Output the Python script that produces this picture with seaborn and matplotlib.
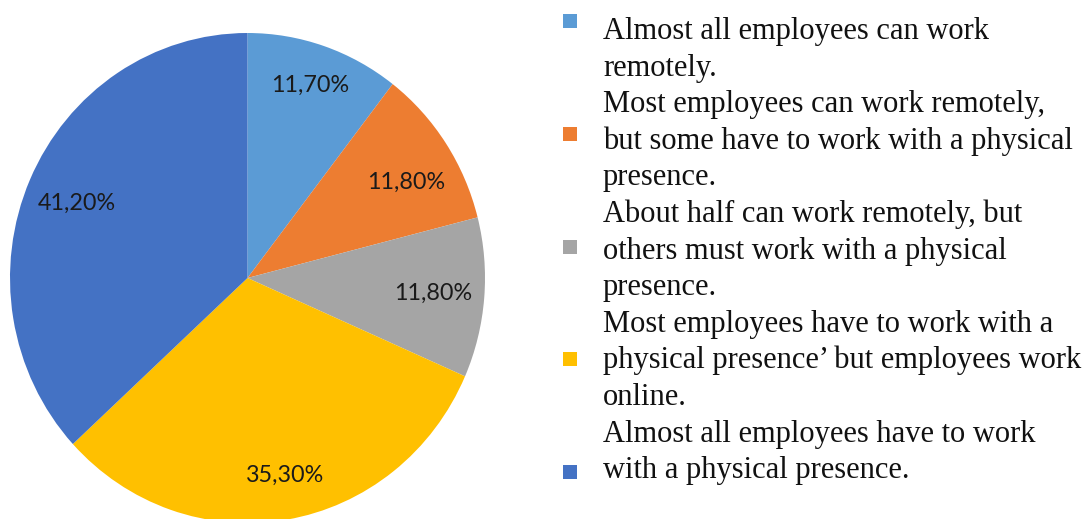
import matplotlib
matplotlib.use("Agg")
import matplotlib.pyplot as plt
import seaborn as sns
from matplotlib.patches import Rectangle

# ---- data ----
categories = [
    "Almost all employees can work\nremotely.",
    "Most employees can work remotely,\nbut some have to work with a physical\npresence.",
    "About half can work remotely, but\nothers must work with a physical\npresence.",
    "Most employees have to work with a\nphysical presence\u2019 but employees work\nonline.",
    "Almost all employees have to work\nwith a physical presence.",
]
values = [11.7, 11.8, 11.8, 35.3, 41.2]
value_labels = ["11,70%", "11,80%", "11,80%", "35,30%", "41,20%"]
colors = ["#5B9BD5", "#ED7D31", "#A5A5A5", "#FFC000", "#4472C4"]

# ---- layout (styling only) ----
label_pos = [(0.264, 0.788), (0.669, 0.392), (0.782, -0.061), (0.159, -0.804), (-0.720, 0.306)]
W, H = 1092, 519

sns.set_theme(style="white")
plt.rcParams["font.family"] = ["Lato", "DejaVu Sans"]

fig = plt.figure(figsize=(W / 100, H / 100), dpi=100)
fig.patch.set_facecolor("white")

# pie axes (pixel box: x 10..485, y 33..523)
ax = fig.add_axes([10 / W, (H - 523) / H, 475 / W, 490 / H])
wedges, _texts, autotexts = ax.pie(
    values, colors=colors, startangle=90, counterclock=False,
    autopct="%1.1f", wedgeprops=dict(linewidth=0), radius=1,
)
for t, lab, pos in zip(autotexts, value_labels, label_pos):
    t.set_text(lab)
    t.set_position(pos)
    t.set_ha("center")
    t.set_va("center")
    t.set_fontsize(16.8)
    t.set_color("#1a1a1a")
ax.set_aspect("auto")
ax.set_xlim(-1, 1)
ax.set_ylim(-1, 1)
ax.axis("off")

# legend drawn in a pixel-coordinate overlay
lg = fig.add_axes([0, 0, 1, 1])
lg.set_xlim(0, W)
lg.set_ylim(H, 0)
lg.axis("off")
lg.patch.set_alpha(0)

pitch = 36.6
base0 = 39
line = 0
for i, (cat, col) in enumerate(zip(categories, colors)):
    my = 21 + i * 112.75
    lg.add_patch(Rectangle((563, my - 7), 14, 14, facecolor=col, edgecolor="none"))
    for ln in cat.split("\n"):
        lg.text(603, base0 + line * pitch, ln, ha="left", va="baseline",
                fontsize=22, family=["Liberation Serif", "DejaVu Serif"], color="#111111")
        line += 1

fig.savefig("out.png", dpi=100, facecolor="white")
